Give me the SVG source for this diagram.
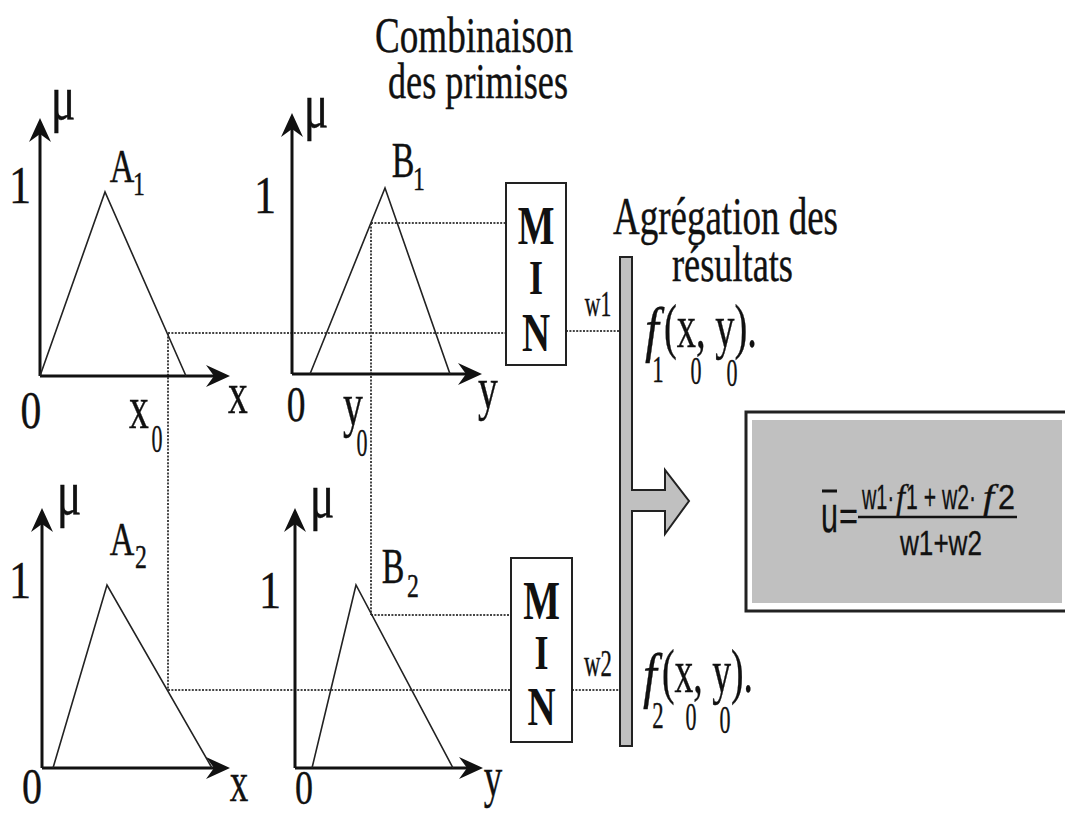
<svg xmlns="http://www.w3.org/2000/svg" width="1065" height="814" viewBox="0 0 1065 814">
<defs>
<style>
.t{font-family:"Liberation Serif","Times New Roman",serif;fill:#111;stroke:#111;stroke-width:0.4}
.b{font-family:"Liberation Serif","Times New Roman",serif;font-weight:bold;fill:#111}
.s{font-family:"Liberation Sans Narrow","Liberation Sans",Arial,sans-serif;fill:#111;stroke:#111;stroke-width:0.3}
.i{font-family:"Liberation Serif","Times New Roman",serif;font-style:italic;fill:#111;stroke:#111;stroke-width:0.4}
.axis{stroke:#111;stroke-width:3;fill:none}
.tri{stroke:#222;stroke-width:1.6;fill:none;stroke-linejoin:miter}
.dot{stroke:#444;stroke-width:2;stroke-dasharray:2 1.4;fill:none}
.box{fill:#fff;stroke:#222;stroke-width:2}
</style>
<marker id="ah" markerUnits="userSpaceOnUse" viewBox="-16 -13 28 26" markerWidth="28" markerHeight="26" refX="0" refY="0" orient="auto" overflow="visible">
<path d="M10,0 L-14,-11 L-6,0 L-14,11 Z" fill="#111"/>
</marker>
</defs>
<rect width="1065" height="814" fill="#fff"/>

<g id="title-combinaison">
<text class="t" x="375" y="52" font-size="50" textLength="198" lengthAdjust="spacingAndGlyphs">Combinaison</text>
<text class="t" x="388" y="98" font-size="50" textLength="180" lengthAdjust="spacingAndGlyphs">des primises</text>
</g>
<g id="title-agregation">
<text class="t" x="613" y="234" font-size="52" textLength="225" lengthAdjust="spacingAndGlyphs">Agrégation des</text>
<text class="t" x="672" y="281" font-size="50" textLength="121" lengthAdjust="spacingAndGlyphs">résultats</text>
</g>

<g id="connectors">
<path class="dot" d="M168,333 H506"/>
<path class="dot" d="M168,333 V690"/>
<path class="dot" d="M168,690 H511"/>
<path class="dot" d="M371,223 H506"/>
<path class="dot" d="M371,223 V615"/>
<path class="dot" d="M371,615 H511"/>
<path class="dot" d="M566,331 H620"/>
<path class="dot" d="M572,690 H620"/>
</g>

<g id="chart-A1">
<path class="axis" d="M40,376 V128" marker-end="url(#ah)"/>
<path class="axis" d="M40,376 H220" marker-end="url(#ah)"/>
<path class="tri" d="M40,376 L105,192 L186,376"/>
<text class="t" transform="translate(63,119) scale(0.72,1)" font-size="64" text-anchor="middle">μ</text>
<text class="t" transform="translate(20,203) scale(0.85,1)" font-size="52" text-anchor="middle">1</text>
<text class="t" transform="translate(122,182) scale(0.74,1)" font-size="46" text-anchor="middle">A</text>
<text class="t" transform="translate(139,195) scale(0.7,1)" font-size="34" text-anchor="middle">1</text>
<text class="t" transform="translate(31,428) scale(0.8,1)" font-size="52" text-anchor="middle">0</text>
<text class="t" transform="translate(238,413) scale(0.66,1)" font-size="60" text-anchor="middle">x</text>
<text class="t" transform="translate(139,428) scale(0.64,1)" font-size="62" text-anchor="middle">x</text>
<text class="t" transform="translate(157,452) scale(0.55,1)" font-size="40" text-anchor="middle">0</text>
</g>

<g id="chart-B1">
<path class="axis" d="M292,374 V123" marker-end="url(#ah)"/>
<path class="axis" d="M292,374 H472" marker-end="url(#ah)"/>
<path class="tri" d="M310,374 L385,188 L450,374"/>
<text class="t" transform="translate(316,127) scale(0.72,1)" font-size="64" text-anchor="middle">μ</text>
<text class="t" transform="translate(265,213) scale(0.85,1)" font-size="52" text-anchor="middle">1</text>
<text class="t" transform="translate(403,177) scale(0.68,1)" font-size="50" text-anchor="middle">B</text>
<text class="t" transform="translate(419,190) scale(0.7,1)" font-size="34" text-anchor="middle">1</text>
<text class="t" transform="translate(296,421) scale(0.75,1)" font-size="50" text-anchor="middle">0</text>
<text class="t" transform="translate(488,408) scale(0.66,1)" font-size="60" text-anchor="middle">y</text>
<text class="t" transform="translate(353,425) scale(0.64,1)" font-size="62" text-anchor="middle">y</text>
<text class="t" transform="translate(362,456) scale(0.55,1)" font-size="40" text-anchor="middle">0</text>
</g>

<g id="chart-A2">
<path class="axis" d="M42,768 V518" marker-end="url(#ah)"/>
<path class="axis" d="M42,768 H220" marker-end="url(#ah)"/>
<path class="tri" d="M53,768 L107,585 L212,768"/>
<text class="t" transform="translate(69,514) scale(0.72,1)" font-size="64" text-anchor="middle">μ</text>
<text class="t" transform="translate(20,598) scale(0.85,1)" font-size="52" text-anchor="middle">1</text>
<text class="t" transform="translate(122,555) scale(0.74,1)" font-size="46" text-anchor="middle">A</text>
<text class="t" transform="translate(141,568) scale(0.7,1)" font-size="34" text-anchor="middle">2</text>
<text class="t" transform="translate(32,803) scale(0.8,1)" font-size="50" text-anchor="middle">0</text>
<text class="t" transform="translate(239,801) scale(0.66,1)" font-size="56" text-anchor="middle">x</text>
</g>

<g id="chart-B2">
<path class="axis" d="M295,768 V518" marker-end="url(#ah)"/>
<path class="axis" d="M295,768 H473" marker-end="url(#ah)"/>
<path class="tri" d="M312,768 L356,585 L453,768"/>
<text class="t" transform="translate(322,517) scale(0.72,1)" font-size="64" text-anchor="middle">μ</text>
<text class="t" transform="translate(270,608) scale(0.85,1)" font-size="52" text-anchor="middle">1</text>
<text class="t" transform="translate(393,583) scale(0.68,1)" font-size="50" text-anchor="middle">B</text>
<text class="t" transform="translate(413,597) scale(0.7,1)" font-size="34" text-anchor="middle">2</text>
<text class="t" transform="translate(304,804) scale(0.75,1)" font-size="48" text-anchor="middle">0</text>
<text class="t" transform="translate(493,796) scale(0.66,1)" font-size="56" text-anchor="middle">y</text>
</g>

<g id="min-1">
<rect class="box" x="506" y="183" width="60" height="182"/>
<text class="b" transform="translate(536,244) scale(0.72,1)" font-size="54" text-anchor="middle">M</text>
<text class="b" transform="translate(536,294) scale(0.75,1)" font-size="48" text-anchor="middle">I</text>
<text class="b" transform="translate(536,351) scale(0.72,1)" font-size="54" text-anchor="middle">N</text>
<text class="t" transform="translate(598,316) scale(0.6,1)" font-size="36" text-anchor="middle">w1</text>
</g>

<g id="min-2">
<rect class="box" x="511" y="558" width="61" height="184"/>
<text class="b" transform="translate(541.5,619) scale(0.72,1)" font-size="54" text-anchor="middle">M</text>
<text class="b" transform="translate(541.5,669) scale(0.75,1)" font-size="48" text-anchor="middle">I</text>
<text class="b" transform="translate(541.5,725) scale(0.72,1)" font-size="54" text-anchor="middle">N</text>
<text class="t" transform="translate(598,676) scale(0.6,1)" font-size="38" text-anchor="middle">w2</text>
</g>

<g id="aggregation-bar">
<path d="M620,257 H632 V490 H665 V470 L689,501 L665,534 V511 H632 V746 H620 Z" fill="#c0c0c0" stroke="#222" stroke-width="2" stroke-linejoin="miter"/>
</g>

<g id="result-f1">
<text class="i" transform="translate(652,350) scale(0.8,1)" font-size="62" text-anchor="middle">f</text>
<text class="t" transform="translate(658,382) scale(0.6,1)" font-size="38" text-anchor="middle">1</text>
<text class="t" x="664" y="347" font-size="62" textLength="93" lengthAdjust="spacingAndGlyphs">(x, y).</text>
<text class="t" transform="translate(696,384) scale(0.55,1)" font-size="40" text-anchor="middle">0</text>
<text class="t" transform="translate(732,386) scale(0.55,1)" font-size="40" text-anchor="middle">0</text>
</g>

<g id="result-f2">
<text class="i" transform="translate(650,696) scale(0.8,1)" font-size="62" text-anchor="middle">f</text>
<text class="t" transform="translate(658,728) scale(0.6,1)" font-size="38" text-anchor="middle">2</text>
<text class="t" x="662" y="692" font-size="62" textLength="91" lengthAdjust="spacingAndGlyphs">(x, y).</text>
<text class="t" transform="translate(691,730) scale(0.55,1)" font-size="40" text-anchor="middle">0</text>
<text class="t" transform="translate(725,733) scale(0.55,1)" font-size="40" text-anchor="middle">0</text>
</g>

<g id="output-box">
<rect x="746" y="412" width="330" height="199" fill="#fff" stroke="#222" stroke-width="3"/>
<rect x="752" y="420" width="310" height="183" fill="#c0c0c0"/>
<line x1="822" y1="491" x2="837" y2="491" stroke="#111" stroke-width="3"/>
<text class="s" x="821" y="532" font-size="52" textLength="17" lengthAdjust="spacingAndGlyphs">u</text>
<text class="s" x="839" y="530" font-size="40" textLength="19" lengthAdjust="spacingAndGlyphs">=</text>
<line x1="858" y1="517" x2="1017" y2="517" stroke="#111" stroke-width="2.5"/>
<text class="s" x="862" y="509" font-size="35" textLength="32" lengthAdjust="spacingAndGlyphs">w1·</text>
<text class="i" x="896" y="509" font-size="36" textLength="9" lengthAdjust="spacingAndGlyphs">f</text>
<text class="s" x="906" y="509" font-size="35" textLength="70" lengthAdjust="spacingAndGlyphs">1 + w2·</text>
<text class="i" x="983" y="509" font-size="36" textLength="11" lengthAdjust="spacingAndGlyphs">f</text>
<text class="s" x="998" y="509" font-size="35" textLength="17" lengthAdjust="spacingAndGlyphs">2</text>
<text class="s" x="900" y="555" font-size="35" textLength="82" lengthAdjust="spacingAndGlyphs">w1+w2</text>
</g>
</svg>
